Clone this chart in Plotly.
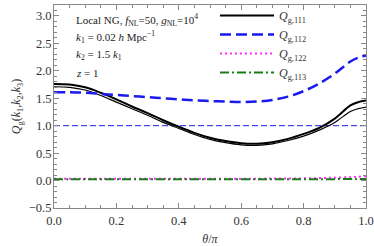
import plotly.graph_objects as go

theta = [0.00, 0.05, 0.10, 0.15, 0.20, 0.25, 0.30, 0.35, 0.40, 0.45, 0.50,
         0.55, 0.60, 0.65, 0.70, 0.75, 0.80, 0.85, 0.90, 0.95, 0.975, 1.00]

q111_upper = [1.76, 1.75, 1.70, 1.60, 1.48, 1.35, 1.23, 1.10, 0.98, 0.87, 0.78,
              0.72, 0.68, 0.67, 0.70, 0.76, 0.85, 0.96, 1.13, 1.37, 1.43, 1.46]
q111_lower = [1.71, 1.70, 1.65, 1.55, 1.43, 1.31, 1.19, 1.06, 0.95, 0.84, 0.75,
              0.69, 0.65, 0.64, 0.67, 0.73, 0.81, 0.92, 1.06, 1.26, 1.31, 1.34]
q112 = [1.61, 1.61, 1.60, 1.58, 1.56, 1.54, 1.52, 1.50, 1.48, 1.46, 1.45,
        1.44, 1.43, 1.44, 1.47, 1.53, 1.63, 1.77, 1.95, 2.17, 2.24, 2.28]
q122 = [0.035, 0.035, 0.035, 0.035, 0.035, 0.035, 0.035, 0.035, 0.035, 0.035, 0.035,
        0.035, 0.035, 0.035, 0.036, 0.038, 0.040, 0.045, 0.052, 0.062, 0.070, 0.080]
q113 = [0.022, 0.022, 0.022, 0.022, 0.022, 0.022, 0.022, 0.022, 0.022, 0.022, 0.022,
        0.022, 0.022, 0.022, 0.022, 0.023, 0.024, 0.025, 0.026, 0.028, 0.029, 0.030]
ref_x = [0.0, 1.0]
ref_y = [1.0, 1.0]

x_ticks = [0.0, 0.2, 0.4, 0.6, 0.8, 1.0]
x_ticklabels = ["0.0", "0.2", "0.4", "0.6", "0.8", "1.0"]
y_ticks = [-0.5, 0.0, 0.5, 1.0, 1.5, 2.0, 2.5, 3.0]
y_ticklabels = ["\u22120.5", "0.0", "0.5", "1.0", "1.5", "2.0", "2.5", "3.0"]

SERIF = "Liberation Serif, Times New Roman, serif"

fig = go.Figure()
fig.add_trace(go.Scatter(x=ref_x, y=ref_y, mode="lines", showlegend=False,
                         line=dict(color="#1a1aee", width=1, dash="6px,3px")))
fig.add_trace(go.Scatter(x=theta, y=q111_lower, mode="lines", showlegend=False,
                         line=dict(color="black", width=1.2, shape="spline")))
fig.add_trace(go.Scatter(x=theta, y=q111_upper, mode="lines", name="<i>Q</i><sub>g,111</sub>",
                         line=dict(color="black", width=2, shape="spline")))
fig.add_trace(go.Scatter(x=theta, y=q112, mode="lines", name="<i>Q</i><sub>g,112</sub>",
                         line=dict(color="#1a1aee", width=2.5, dash="11px,5px", shape="spline")))
fig.add_trace(go.Scatter(x=theta, y=q122, mode="lines", name="<i>Q</i><sub>g,122</sub>",
                         line=dict(color="#ff2aff", width=2, dash="2px,3px", shape="spline")))
fig.add_trace(go.Scatter(x=theta, y=q113, mode="lines", name="<i>Q</i><sub>g,113</sub>",
                         line=dict(color="#1a7a1a", width=2, dash="9px,3px,2px,3px", shape="spline")))

ann_font = dict(family=SERIF, size=11, color="#222")
texts = [
    ("Local NG, <i>f</i><sub>NL</sub>=50, <i>g</i><sub>NL</sub>=10<sup>4</sup>", 16),
    ("<i>k</i><sub>1</sub> = 0.02 <i>h</i> Mpc<sup>\u22121</sup>", 34),
    ("<i>k</i><sub>2</sub> = 1.5 <i>k</i><sub>1</sub>", 52),
    ("<i>z</i> = 1", 70),
]
for t, ypx in texts:
    fig.add_annotation(text=t, xref="paper", yref="paper", x=(74 - 54) / 312,
                       y=1 - (ypx - 1) / 207, xanchor="left", yanchor="middle",
                       showarrow=False, font=ann_font)

axis_common = dict(
    showline=True, linecolor="#888", linewidth=1, mirror="ticks",
    ticks="inside", ticklen=5, tickcolor="#888", showgrid=False, zeroline=False,
    tickfont=dict(family=SERIF, size=12.5, color="#333"),
    minor=dict(ticks="inside", ticklen=3, tickcolor="#888", showgrid=False),
)

fig.update_xaxes(range=[0, 1], tickvals=x_ticks, ticktext=x_ticklabels,
                 minor_dtick=0.05, ticklabelstandoff=1, ticklabeloverflow="allow",
                 title=dict(text="<i>\u03b8</i>/<i>\u03c0</i>",
                            font=dict(family=SERIF, size=12, color="#333"), standoff=7),
                 **axis_common)
fig.update_yaxes(range=[-0.5, 3.2], tickvals=y_ticks, ticktext=y_ticklabels,
                 minor_dtick=0.1, ticklabelstandoff=-1,
                 title=dict(text="<i>Q</i><sub>g</sub>(<i>k</i><sub>1</sub>,<i>k</i><sub>2</sub>,<i>k</i><sub>3</sub>)",
                            font=dict(family=SERIF, size=12, color="#333"), standoff=5),
                 **axis_common)

fig.update_layout(
    width=374, height=246,
    margin=dict(l=54, r=8, t=1, b=38),
    paper_bgcolor="white", plot_bgcolor="white",
    legend=dict(x=(215 - 54) / 312, y=1 + 4 / 207, xanchor="left", yanchor="top",
                bgcolor="rgba(0,0,0,0)", font=dict(family=SERIF, size=12, color="#333"),
                itemwidth=54, tracegroupgap=0),
    showlegend=True,
)

fig.write_html("out.html", config={"displayModeBar": False},
               post_script="document.body.style.margin='0';document.body.style.padding='0';")
